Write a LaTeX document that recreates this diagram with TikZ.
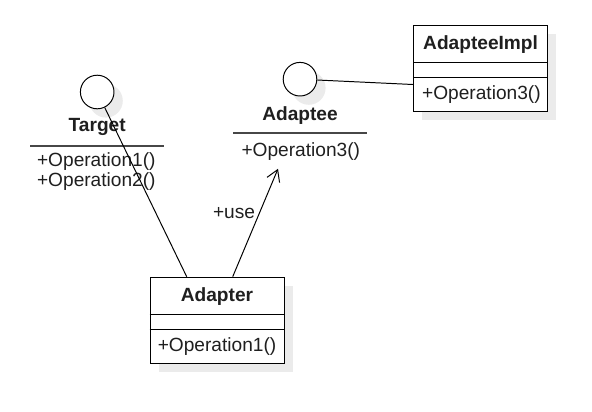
\documentclass[tikz,border=0pt]{standalone}
\usepackage{fontspec}
\setmainfont{Liberation Sans}
\usepackage{tikz}
\usetikzlibrary{arrows.meta,positioning,shadows}

\begin{document}
\begin{tikzpicture}[
  font=\fontsize{13.6}{14.4}\selectfont,
  every node/.style={text=black!88},
  shade/.style={drop shadow={shadow xshift=0.22cm, shadow yshift=-0.22cm, fill=black!8, opacity=1}},
  classbox/.style={draw, line width=0.7pt, fill=white, minimum width=3.35cm, minimum height=2.15cm, inner sep=0pt, shade},
  iface/.style={circle, draw, line width=0.7pt, fill=white, minimum size=0.84cm, inner sep=0pt, shade},
  title/.style={font=\fontsize{13.6}{14.4}\selectfont\bfseries, inner sep=1pt},
  op/.style={anchor=west, inner sep=0pt},
  sep/.style={line width=1.3pt, draw=black!72},
  link/.style={line width=0.7pt},
  usearrow/.style={line width=0.7pt, -{Straight Barb[length=2.8mm, width=3.4mm]}}
]
\useasboundingbox (0,0) rectangle (14.8,-10.3);

% interface Target
\node[iface] (tcirc) at (2.43,-2.3) {};
\node[title] (target) at (2.43,-3.18) {Target};
\draw[sep] (0.75,-3.65) -- (4.1,-3.65);
\node[anchor=north west, align=left, inner sep=0pt] (targetops) at (0.92,-3.8) {+Operation1()\\+Operation2()};

% interface Adaptee
\node[iface] (acirc) at (7.5,-1.98) {};
\node[title] (adaptee) at (7.5,-2.88) {Adaptee};
\draw[sep] (5.83,-3.33) -- (9.18,-3.33);
\node[inner sep=0pt] (adapteeop) at (7.52,-3.8) {+Operation3()};

% class AdapteeImpl
\node[classbox] (impl) at (12.015,-1.7) {};
\node[title] (impltitle) at ([yshift=-0.5cm]impl.north) {AdapteeImpl};
\draw[link] ([yshift=-0.95cm]impl.north west) -- ([yshift=-0.95cm]impl.north east);
\draw[link] ([yshift=-1.33cm]impl.north west) -- ([yshift=-1.33cm]impl.north east);
\node[op] (implop) at ([xshift=0.22cm,yshift=-1.75cm]impl.north west) {+Operation3()};

% class Adapter
\node[classbox] (adapter) at (5.425,-8.005) {};
\node[title] (adaptertitle) at ([yshift=-0.5cm]adapter.north) {Adapter};
\draw[link] ([yshift=-0.95cm]adapter.north west) -- ([yshift=-0.95cm]adapter.north east);
\draw[link] ([yshift=-1.33cm]adapter.north west) -- ([yshift=-1.33cm]adapter.north east);
\node[op] (adapterop) at ([xshift=0.2cm,yshift=-1.75cm]adapter.north west) {+Operation1()};

% connectors
\coordinate (adtop1) at ([xshift=0.93cm]adapter.north west);
\coordinate (adtop2) at ([xshift=2.08cm]adapter.north west);
\coordinate (usetip) at (6.95,-4.22);
\coordinate (implin) at ([yshift=-1.5cm]impl.north west);
\draw[link] (tcirc) -- (adtop1);
\draw[usearrow] (adtop2) -- (usetip);
\node[inner sep=0pt] (uselab) at (5.85,-5.33) {+use};
\draw[link] (acirc) -- (implin);
\end{tikzpicture}
\end{document}
